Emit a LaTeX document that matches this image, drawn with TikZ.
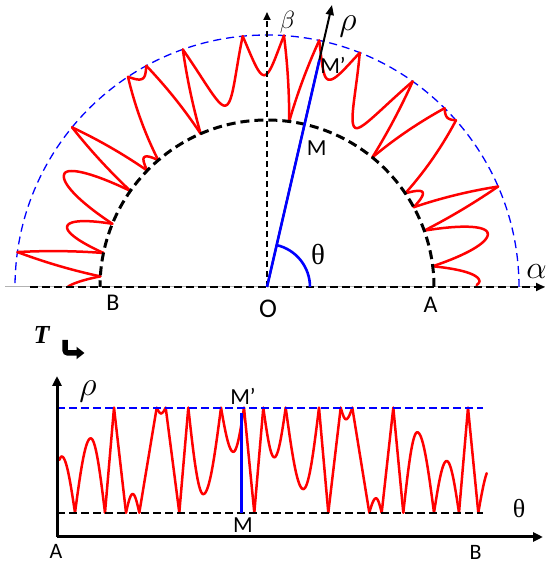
\documentclass[tikz,border=0pt]{standalone}
\usepackage{fontspec}
\setmainfont{Carlito}
\newfontfamily\serifr{Liberation Serif}
\usetikzlibrary{arrows.meta}
\begin{document}
\begin{tikzpicture}[x=1pt,y=1pt,
  declare function={shp(\za,\zb)=(\zb==1)*sin(90*\za)+(\zb==2)*(1-cos(90*\za))+(\zb==0)*\za+(\zb==3)*sin(60*\za)/0.8660254;},
  curve/.style={red, line width=2.5pt, line cap=round, line join=round},
  innerc/.style={black, line width=3pt, dash pattern=on 9pt off 5pt},
  outerc/.style={blue, line width=1.3pt, dash pattern=on 8pt off 5pt},
  axdash/.style={black, line width=2pt, dash pattern=on 8pt off 4pt},
  solidax/.style={black, line width=3pt},
  bluehl/.style={blue, line width=2.6pt},
  lbl/.style={inner sep=0pt, font=\fontsize{24}{24}\selectfont},
  lbls/.style={inner sep=0pt, font=\fontsize{22}{22}\selectfont},
  mlbl/.style={inner sep=0pt, font=\fontsize{23}{23}\selectfont},
  greek/.style={inner sep=0pt, font=\fontsize{24.88}{25}\selectfont, scale=1.37},
  greeks/.style={inner sep=0pt, font=\fontsize{24.88}{25}\selectfont},
  thl/.style={inner sep=0pt, font=\serifr\fontsize{26}{26}\selectfont},
  tip/.style={-{Triangle[length=9pt,width=8pt]}}
]
\useasboundingbox (0,0) rectangle (546,566);

% ---------- top polar figure ----------
\coordinate (O) at (267,279);
\coordinate (axL) at (5,279);
\coordinate (axL2) at (30,279);
\coordinate (axR) at (545,279);
\coordinate (betaTop) at (267,554);
\coordinate (rhoTop) at (332,561);
\coordinate (Ai) at (434,279);
\coordinate (Ao) at (519,279);
\coordinate (thS) at (310,279);

\draw[gray!60, line width=1pt] (axL) -- (axR);
\draw[outerc] (Ao) arc[start angle=0, end angle=180, radius=252];

\foreach \xa/\na/\xb/\nb/\ty in {
59.3/0.502/61.7/0.535/1, 61.7/0.535/75/0/2, 75/0/90.7/0.708/1, 90.7/0.708/105/0/2,
105/0/114/1/0, 114/1/126/0/0, 126/0/132.7/0.178/1, 132.7/0.178/139.3/0/2,
139.3/0/156.7/1/0, 156.7/1/161/0.946/1, 161/0.946/165.7/1/2, 165.7/1/179.3/0/0,
179.3/0/188.3/1/0, 188.3/1/203.3/0.177/1, 203.3/0.177/221/1/2, 221/1/233.3/0.58/1,
233.3/0.58/244/1/2, 244/1/254.3/0/0, 254.3/0/263.3/1/0, 263.3/1/274.3/0.528/1,
274.3/0.528/285.7/1/2, 285.7/1/303.3/0.225/1, 303.3/0.225/319/1/2, 319/1/328.3/0/0,
328.3/0/340.7/1/0, 340.7/1/346/0.89/1, 346/0.89/352.3/1/2, 352.3/1/369.3/0/0,
369.3/0/376/0.137/1, 376/0.137/381.7/0/2, 381.7/0/393.3/1/0, 393.3/1/403.3/0/0,
403.3/0/417.3/0.766/1, 417.3/0.766/434/0/2, 434/0/446.7/0.492/1, 446.7/0.492/459/0/2,
459/0/468/1/0, 468/1/478.3/0/0, 478.3/0/486.7/0.376/3}{
  \draw[curve] plot[domain=0:1, samples=30, variable=\q]
   ({267+(167+85*(\na+(\nb-\na)*shp(\q,\ty)))*cos((\xa+(\xb-\xa)*\q-58)*0.41958)},
    {279+(167+85*(\na+(\nb-\na)*shp(\q,\ty)))*sin((\xa+(\xb-\xa)*\q-58)*0.41958)});
  \draw[curve] plot[domain=0:1, samples=30, variable=\q]
   ({\xa+(\xb-\xa)*\q}, {53.3+105*(\na+(\nb-\na)*shp(\q,\ty))});
}

\draw[innerc] (Ai) arc[start angle=0, end angle=180, radius=167];
\draw[axdash, tip] (axL2) -- (axR);
\draw[black, line width=1.7pt, dash pattern=on 6pt off 4pt, -{Triangle[length=8pt,width=7pt]}] (O) -- (betaTop);
\draw[black, line width=2pt, -{Triangle[length=10pt,width=8pt]}] (O) -- (rhoTop);
\draw[bluehl] (O) -- ++(77:233) coordinate (MpEnd);
\draw[bluehl] (thS) arc[start angle=0, end angle=77, radius=43];

\node[lbl] (lB) at (113,263) {B};
\node[inner sep=0pt, font=\fontsize{27}{27}\selectfont] (lO) at (268,257) {O};
\node[lbl] (lA) at (430.5,261) {A};
\node[greek, scale=0.95] (lal) at (536.5,294) {$\alpha$};
\node[greeks] (lbe) at (287.5,544) {$\beta$};
\node[greek] (lrho) at (348,540) {$\rho$};
\node[mlbl] (lM) at (316.7,418) {M};
\node[mlbl] (lMp) at (333,501) {M’};
\node[thl, font=\serifr\fontsize{29}{29}\selectfont] (lth) at (318,311) {θ};

% ---------- T arrow ----------
\node[inner sep=0pt, font=\serifr\bfseries\itshape\fontsize{26}{26}\selectfont] (lT) at (41.5,231) {T};
\coordinate (tA) at (65,226);
\coordinate (tB) at (84.5,213);
\draw[black, line width=5.5pt, rounded corners=3pt, -{Triangle[length=8pt,width=12pt]}] (tA) |- (tB);

% ---------- bottom figure ----------
\coordinate (C) at (57,29);
\coordinate (Cy) at (57,190);
\coordinate (Cx) at (543,29);
\coordinate (uL) at (57,158.3);
\coordinate (uR) at (483,158.3);
\coordinate (dL) at (57,53.3);
\coordinate (dR) at (483,53.3);
\coordinate (vb) at (241.7,53.3);
\coordinate (vt) at (241.7,153);

\draw[blue, line width=1.7pt, dash pattern=on 8pt off 4pt] (uL) -- (uR);
\draw[black, line width=1.7pt, dash pattern=on 8pt off 4pt] (dL) -- (dR);
\draw[solidax, -{Triangle[length=10pt,width=9pt]}] (C) -- (Cy);
\draw[solidax, -{Triangle[length=10pt,width=9pt]}] (C) -- (Cx);
\draw[bluehl] (vb) -- (vt);

\node[lbls] (bA) at (56,14.5) {A};
\node[lbls] (bB) at (475.5,14) {B};
\node[thl] (bth) at (519,57.5) {θ};
\node[mlbl] (bMp) at (243,169.5) {M’};
\node[mlbl] (bM) at (243,40.5) {M};
\node[greek] (brho) at (88,175) {$\rho$};
\end{tikzpicture}
\end{document}
